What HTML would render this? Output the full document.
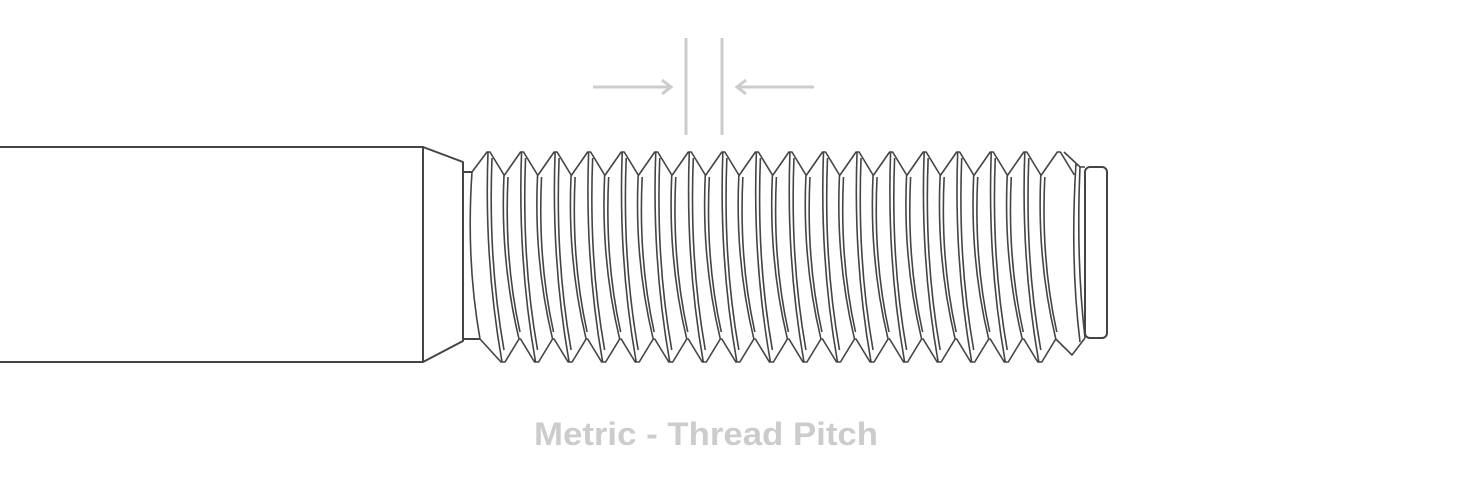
<!DOCTYPE html>
<html><head><meta charset="utf-8"><style>
html,body{margin:0;padding:0;background:#fff;}
svg{display:block;}
</style></head><body>
<svg width="1460" height="500" viewBox="0 0 1460 500" xmlns="http://www.w3.org/2000/svg">
<g fill="none" stroke="#444" stroke-width="2" stroke-linejoin="round">
  <rect x="-5" y="147" width="428" height="215" fill="#fff"/>
  <path d="M423 147 L463 162 L463 341 L423 362"/>
  <path d="M463 172 L472 172 M463 339 L480 339"/>
  <rect x="1085" y="167" width="22" height="171" rx="5"/>
  <g id="thr"></g>
</g>
<g stroke="#ccc" stroke-width="3" fill="none">
  <line x1="686" y1="38" x2="686" y2="135"/>
  <line x1="722" y1="38" x2="722" y2="135"/>
  <line x1="593" y1="87" x2="671" y2="87"/>
  <path d="M662 80 L671 87 L662 94"/>
  <line x1="737" y1="87" x2="814" y2="87"/>
  <path d="M746 80 L737 87 L746 94"/>
</g>
<text x="534" y="445" font-family="Liberation Sans, sans-serif" font-weight="bold" font-size="32" fill="#ccc" textLength="344" lengthAdjust="spacingAndGlyphs">Metric - Thread Pitch</text>
<script>
(function(){
var g=document.getElementById('thr');var ns='http://www.w3.org/2000/svg';
var p=33.55,x0=487,off=16,d='';
var top='M472 172 ';
for(var i=0;i<18;i++){var xt=x0+i*p;top+='L'+(xt-0)+' 152 L'+(xt+3)+' 152 L'+(xt+17)+' 175 ';
 if(i<17) top+='L'+(xt+p-16)+' 175 ';}
d+=top;
var bot='M480 339 ';
for(var i=0;i<17;i++){var xb=x0+off+i*p;bot+='L'+(xb-2)+' 362 L'+(xb+2)+' 362 L'+(xb+16)+' 339 ';
 if(i<16) bot+='L'+(xb+p-16)+' 339 ';}
bot+='L1072 355 L1085 338';
d+=bot;
d+=' M1064 152 L1080 167 L1085 167';
d+=' M472 172 Q466 260 480 339';
for(var i=0;i<18;i++){var xt=x0+i*p;
 if(i<17){
 d+=' M'+(xt+1)+' 152 Q'+(xt-3)+' 260 '+(xt+15)+' 362';
 d+=' M'+(xt+5)+' 158 Q'+(xt+1)+' 260 '+(xt+17)+' 350';
 }
 if(i<17){
 d+=' M'+(xt+17)+' 175 Q'+(xt+13)+' 260 '+(xt+32)+' 339';
 d+=' M'+(xt+21)+' 177 Q'+(xt+17)+' 260 '+(xt+33)+' 332';
 }
}
d+=' M1080 167 Q1076 260 1085 338 M1076 163 Q1070 260 1080 342';
var pa=document.createElementNS(ns,'path');pa.setAttribute('d',d);pa.setAttribute('stroke-width','1.6');g.appendChild(pa);
})();
</script>
</svg>
</body></html>
